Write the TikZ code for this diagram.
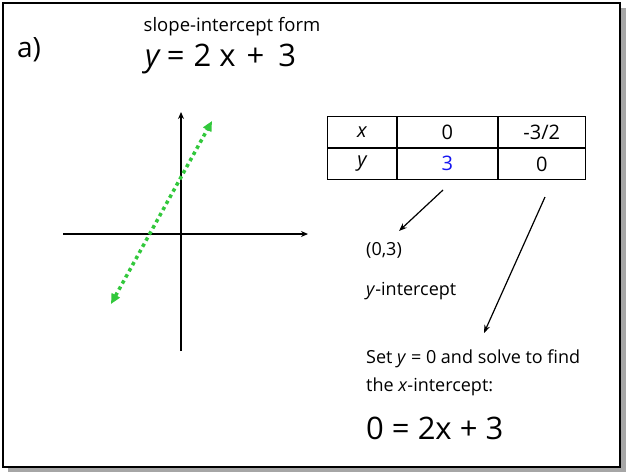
\documentclass[tikz,border=0pt]{standalone}
\usepackage{fontspec}
\setmainfont{Open Sans}
\usetikzlibrary{arrows.meta}
\definecolor{lgreen}{RGB}{50,200,60}
\definecolor{tblue}{RGB}{20,20,240}
\tikzset{
  txt/.style={inner sep=0pt, anchor=west, font=\fontsize{18}{21}\selectfont},
  big/.style={inner sep=0pt, font=\fontsize{31}{36}\selectfont},
  axis/.style={line width=2.2pt, -{Stealth[length=7pt,width=6pt]}},
  ptr/.style={line width=1.2pt, -{Stealth[length=8pt,width=6pt]}},
  cell/.style={draw, line width=0.9pt, minimum width=#1, minimum height=31pt, inner sep=0pt, font=\fontsize{20}{23}\selectfont}
}
\begin{document}
\begin{tikzpicture}[x=1pt,y=-1pt]
\useasboundingbox (0,0) rectangle (626,472);
% shadow
\fill[gray!70] (621,8) rectangle (626,472);
\fill[gray!70] (8,468) rectangle (626,472);
\draw[line width=2pt] (3,3) rectangle (620,467);
% header
\node[inner sep=0pt, font=\fontsize{28}{32}\selectfont] (lbl) at (29,50) {a)};
\node[inner sep=0pt, font=\fontsize{18.5}{21}\selectfont] (title) at (232,27) {slope-intercept form};
\node[big, anchor=west] (eq1) at (145,59) {\textit{y}\hspace{6pt}=\hspace{9pt}2\hspace{8pt}x\hspace{11pt}+\hspace{14pt}3};
% axes
\coordinate (xl) at (63,234);
\coordinate (xr) at (308,234);
\coordinate (yb) at (181,351);
\coordinate (yt) at (181,112);
\draw[axis] (xl) -- (xr);
\draw[axis] (yb) -- (yt);
% green line
\coordinate (ga) at (111,304);
\coordinate (gb) at (212,121);
\draw[lgreen, line width=3.5pt, dash pattern=on 3.5pt off 3.5pt, {Triangle[length=10pt,width=9pt]}-{Triangle[length=10pt,width=9pt]}] (ga) -- (gb);
% table
\node[cell=69pt, anchor=north west] (c11) at (327,116) {\itshape x};
\node[cell=100pt, anchor=west] (c12) at (c11.east) {0};
\node[cell=87pt, anchor=west] (c13) at (c12.east) {-3/2};
\node[cell=69pt, anchor=north] (c21) at (c11.south) {\itshape y};
\node[cell=100pt, anchor=north, text=tblue] (c22) at (c12.south) {3};
\node[cell=87pt, anchor=north] (c23) at (c13.south) {0};
% arrows
\coordinate (a1s) at (443,190);
\coordinate (a1e) at (399,231);
\coordinate (a2s) at (545,197);
\coordinate (a2e) at (484,333);
\draw[ptr] (a1s) -- (a1e);
\draw[ptr] (a2s) -- (a2e);
% texts
\node[txt] (pt) at (366,250) {(0,3)};
\node[txt] (yint) at (366,291) {\textit{y}-intercept};
\node[txt] (set) at (366,359) {Set \textit{y} = 0 and solve to find};
\node[txt] (the) at (366,387) {the \textit{x}-intercept:};
\node[big, anchor=west] (eq2) at (366,428) {0 = 2x + 3};
\end{tikzpicture}
\end{document}
